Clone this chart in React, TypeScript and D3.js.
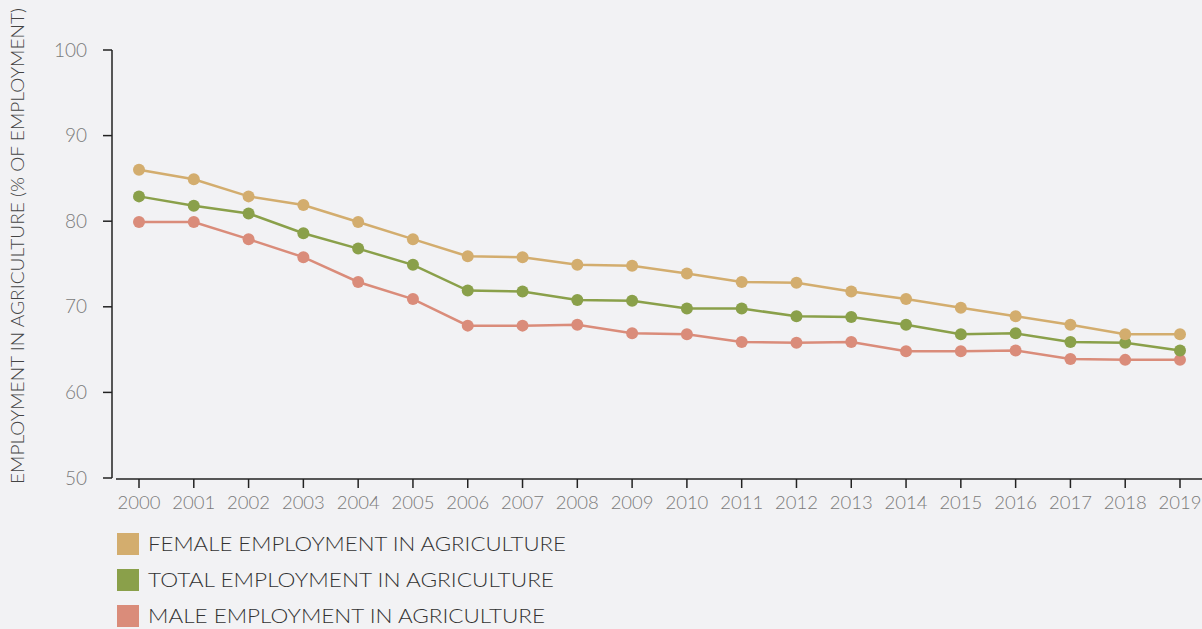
import React from "react";
import * as d3 from "d3";

const years = [2000, 2001, 2002, 2003, 2004, 2005, 2006, 2007, 2008, 2009, 2010, 2011, 2012, 2013, 2014, 2015, 2016, 2017, 2018, 2019];
const female = [86.0, 84.9, 82.9, 81.9, 79.9, 77.9, 75.9, 75.8, 74.9, 74.8, 73.9, 72.9, 72.8, 71.8, 70.9, 69.9, 68.9, 67.9, 66.8, 66.8];
const total = [82.9, 81.8, 80.9, 78.6, 76.8, 74.9, 71.9, 71.8, 70.8, 70.7, 69.8, 69.8, 68.9, 68.8, 67.9, 66.8, 66.9, 65.9, 65.8, 64.9];
const male = [79.9, 79.9, 77.9, 75.8, 72.9, 70.9, 67.8, 67.8, 67.9, 66.9, 66.8, 65.9, 65.8, 65.9, 64.8, 64.8, 64.9, 63.9, 63.8, 63.8];
const yTicks = [50, 60, 70, 80, 90, 100];

const seriesNames = ["FEMALE EMPLOYMENT IN AGRICULTURE", "TOTAL EMPLOYMENT IN AGRICULTURE", "MALE EMPLOYMENT IN AGRICULTURE"];
const seriesColors = ["#d3ad6e", "#8aa04a", "#da8c7a"];
const seriesData = [female, total, male];
const legendWidths = [418, 406, 397];

const W = 1202;
const H = 629;
const FONT = "Lato, 'Open Sans', sans-serif";

export default function App() {
  const x = d3.scalePoint<number>().domain(years).range([139, 1180]);
  const y = d3.scaleLinear().domain([50, 100]).range([478, 50]);
  const line = d3
    .line<number>()
    .x((_, i) => x(years[i]) as number)
    .y((d) => y(d));

  // draw order: male, total, female so female on top? keep reference-like
  const order = [2, 1, 0];

  return (
    <svg
      width={W}
      height={H}
      style={{ position: "absolute", left: 0, top: 0, background: "#f2f2f4" }}
      fontFamily={FONT}
    >
      <rect x={0} y={0} width={W} height={H} fill="#f2f2f4" />
      {/* y axis */}
      <line x1={112} x2={112} y1={y(100)} y2={y(50)} stroke="#222" strokeWidth={1.5} />
      {yTicks.map((t) => (
        <g key={t}>
          <line x1={103} x2={112} y1={y(t)} y2={y(t)} stroke="#222" strokeWidth={1.5} />
          <text x={87} y={y(t)} dy="0.35em" textAnchor="end" fontSize={19} fill="#7a7a7a" fontWeight={300}>
            {t}
          </text>
        </g>
      ))}
      {/* x axis */}
      <line x1={116} x2={W} y1={479} y2={479} stroke="#222" strokeWidth={1.5} />
      {years.map((yr) => (
        <g key={yr}>
          <line x1={x(yr)} x2={x(yr)} y1={479} y2={488} stroke="#222" strokeWidth={1.5} />
          <text x={x(yr)} y={509} textAnchor="middle" fontSize={18.5} fill="#7a7a7a" fontWeight={300}>
            {yr}
          </text>
        </g>
      ))}
      {/* y label */}
      <text
        transform={`translate(24, 246) rotate(-90)`}
        textAnchor="middle"
        fontSize={18}
        fill="#444"
        fontWeight={300}
        textLength={476}
        lengthAdjust="spacingAndGlyphs"
      >
        EMPLOYMENT IN AGRICULTURE (% OF EMPLOYMENT)
      </text>
      {/* series */}
      {order.map((s) => (
        <g key={s}>
          <path d={line(seriesData[s]) || ""} fill="none" stroke={seriesColors[s]} strokeWidth={2.5} />
          {seriesData[s].map((v, i) => (
            <circle key={i} cx={x(years[i]) as number} cy={y(v)} r={6} fill={seriesColors[s]} />
          ))}
        </g>
      ))}
      {/* legend */}
      {seriesNames.map((n, i) => (
        <g key={n} transform={`translate(117, ${533 + i * 36})`}>
          <rect x={0} y={0} width={22} height={22} fill={seriesColors[i]} />
          <text
            x={31}
            y={11}
            dy="0.36em"
            fontSize={20}
            fill="#333"
            fontWeight={300}
            textLength={legendWidths[i]}
            lengthAdjust="spacingAndGlyphs"
          >
            {n}
          </text>
        </g>
      ))}
    </svg>
  );
}
